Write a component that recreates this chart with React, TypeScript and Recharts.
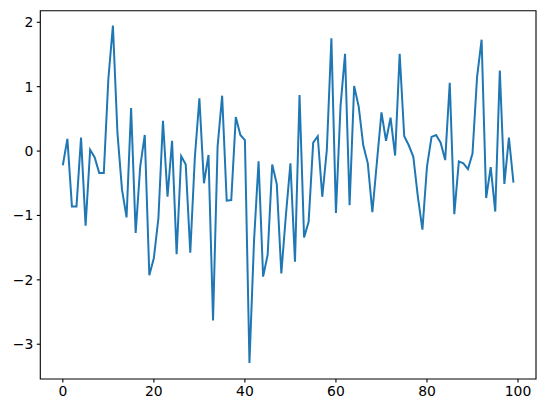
import React from "react";
import { LineChart, Line, XAxis, YAxis, ReferenceArea } from "recharts";

const values: number[] = [
  -0.22, 0.19, -0.86, -0.86, 0.21, -1.16, 0.02, -0.1, -0.34, -0.34,
  1.12, 1.95, 0.28, -0.6, -1.03, 0.67, -1.27, -0.24, 0.25, -1.93,
  -1.66, -1.04, 0.47, -0.71, 0.16, -1.6, -0.08, -0.21, -1.58, -0.1,
  0.82, -0.5, -0.06, -2.63, 0.07, 0.86, -0.77, -0.76, 0.53, 0.25,
  0.17, -3.29, -1.4, -0.16, -1.95, -1.61, -0.21, -0.51, -1.9, -1.0,
  -0.19, -1.72, 0.87, -1.34, -1.1, 0.13, 0.23, -0.71, 0.02, 1.75,
  -0.96, 0.69, 1.51, -0.84, 1.01, 0.69, 0.09, -0.19, -0.95, -0.17,
  0.6, 0.16, 0.52, -0.07, 1.51, 0.23, 0.09, -0.09, -0.71, -1.22,
  -0.24, 0.22, 0.25, 0.13, -0.14, 1.06, -0.98, -0.16, -0.19, -0.28,
  -0.04, 1.15, 1.73, -0.73, -0.25, -0.94, 1.25, -0.51, 0.21, -0.49,
];

const xTicks: number[] = [0, 20, 40, 60, 80, 100];
const yTicks: number[] = [-3, -2, -1, 0, 1, 2];
const xDomain: [number, number] = [-4.95, 103.95];
const yDomain: [number, number] = [-3.54, 2.18];

const data = values.map((v, i) => ({ x: i, y: v }));

const fmt = (v: number) => String(v).replace("-", "\u2212");

const tickStyle = { fill: "#000", fontSize: 13.9, fontFamily: "DejaVu Sans" };

export default function App() {
  return (
    <div style={{ position: "absolute", left: 0, top: 0, background: "#fff" }}>
      <LineChart
        width={546}
        height={413}
        data={data}
        margin={{ top: 10.7, right: 10, bottom: 0, left: 0 }}
      >
        <XAxis
          dataKey="x"
          type="number"
          domain={xDomain}
          ticks={xTicks}
          allowDataOverflow
          axisLine={false}
          tickLine={{ stroke: "#000", strokeWidth: 1.1 }}
          tickSize={3.5}
          tickMargin={3.5}
          height={34}
          tick={tickStyle}
          tickFormatter={fmt}
          interval={0}
        />
        <YAxis
          type="number"
          domain={yDomain}
          ticks={yTicks}
          allowDataOverflow
          axisLine={false}
          tickLine={{ stroke: "#000", strokeWidth: 1.1 }}
          tickSize={3.5}
          tickMargin={3.5}
          width={40.3}
          tick={tickStyle}
          tickFormatter={fmt}
          interval={0}
        />
        <ReferenceArea
          x1={xDomain[0]}
          x2={xDomain[1]}
          y1={yDomain[0]}
          y2={yDomain[1]}
          fill="none"
          fillOpacity={0}
          stroke="#000"
          strokeWidth={1.1}
          ifOverflow="visible"
        />
        <Line
          type="linear"
          dataKey="y"
          stroke="#1f77b4"
          strokeWidth={2}
          dot={false}
          isAnimationActive={false}
        />
      </LineChart>
    </div>
  );
}
